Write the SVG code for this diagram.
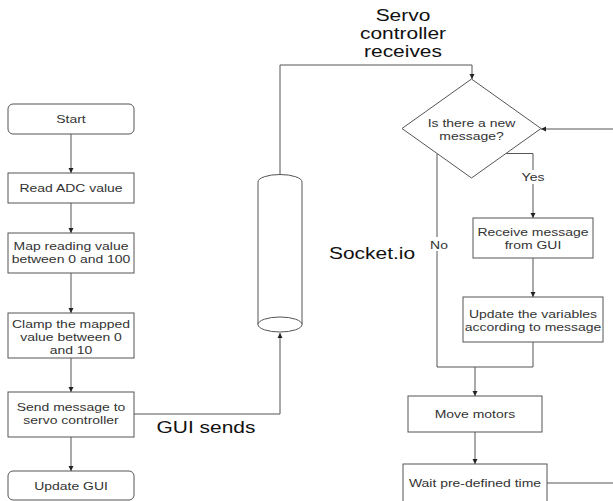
<svg xmlns="http://www.w3.org/2000/svg" width="613" height="501" viewBox="0 0 613 501">
<style>
.b{fill:#fff;stroke:#555;stroke-width:1}
.t{font-family:"Liberation Sans",Arial,sans-serif;font-size:11px;fill:#333;text-anchor:middle}
.L{font-family:"Liberation Sans",Arial,sans-serif;font-size:16.5px;fill:#111;text-anchor:middle}
.c{fill:none;stroke:#555;stroke-width:1}
</style>
<defs>
<marker id="a" markerWidth="6" markerHeight="6" refX="5" refY="3" orient="auto" markerUnits="userSpaceOnUse">
<path d="M0,0.5 L5,3 L0,5.5 Z" fill="#222"/>
</marker>
</defs>
<rect width="613" height="501" fill="#fff"/>
<g id="connectors">
<path class="c" d="M71,134 V173" marker-end="url(#a)"/>
<path class="c" d="M71,203 V233" marker-end="url(#a)"/>
<path class="c" d="M71,273 V313" marker-end="url(#a)"/>
<path class="c" d="M71,358 V392" marker-end="url(#a)"/>
<path class="c" d="M71,437 V471" marker-end="url(#a)"/>
<path class="c" d="M134,414 H280 V333" marker-end="url(#a)"/>
<path class="c" d="M280,175 V65 H472 V79" marker-end="url(#a)"/>
<path class="c" d="M613,129 H541" marker-end="url(#a)"/>
<path class="c" d="M506,153.5 H533 V218" marker-end="url(#a)"/>
<path class="c" d="M533,258 V297" marker-end="url(#a)"/>
<path class="c" d="M437,153.5 V367 H533 V342"/>
<path class="c" d="M475,367 V396" marker-end="url(#a)"/>
<path class="c" d="M475,432 V464" marker-end="url(#a)"/>
<path class="c" d="M547,483 H613"/>
<rect x="520" y="170" width="26" height="14" fill="#fff"/>
<text class="t" transform="translate(533,181) scale(1.27,1)">Yes</text>
<rect x="428" y="237" width="22" height="14" fill="#fff"/>
<text class="t" transform="translate(439,249) scale(1.27,1)">No</text>
</g>
<g id="start"><rect class="b" x="8" y="104" width="126" height="30" rx="5"/><text class="t" transform="translate(71,123) scale(1.27,1)">Start</text></g>
<g id="read"><rect class="b" x="8" y="173" width="126" height="30"/><text class="t" transform="translate(71,192) scale(1.27,1)">Read ADC value</text></g>
<g id="map"><rect class="b" x="8" y="233" width="126" height="40"/><text class="t" transform="translate(71,250) scale(1.27,1)">Map reading value</text><text class="t" transform="translate(71,263) scale(1.27,1)">between 0 and 100</text></g>
<g id="clamp"><rect class="b" x="8" y="313" width="126" height="45"/><text class="t" transform="translate(71,328) scale(1.27,1)">Clamp the mapped</text><text class="t" transform="translate(71,341) scale(1.27,1)">value between 0</text><text class="t" transform="translate(71,354) scale(1.27,1)">and 10</text></g>
<g id="send"><rect class="b" x="8" y="392" width="126" height="45"/><text class="t" transform="translate(71,411) scale(1.27,1)">Send message to</text><text class="t" transform="translate(71,424) scale(1.27,1)">servo controller</text></g>
<g id="updategui"><rect class="b" x="8" y="471" width="126" height="29" rx="5"/><text class="t" transform="translate(71,490) scale(1.27,1)">Update GUI</text></g>
<g id="socket">
<path class="b" d="M258,182 A22,7.5 0 0 1 302,182 V324.5 H258 Z"/>
<ellipse class="b" cx="280" cy="324.5" rx="22" ry="7.5"/>
</g>
<g id="decision"><path class="b" d="M471.5,79 L541,128.5 L471.5,178 L402,128.5 Z"/><text class="t" transform="translate(471.5,127) scale(1.27,1)">Is there a new</text><text class="t" transform="translate(471.5,140) scale(1.27,1)">message?</text></g>
<g id="receive"><rect class="b" x="473" y="218" width="120" height="40"/><text class="t" transform="translate(533,236) scale(1.27,1)">Receive message</text><text class="t" transform="translate(533,249) scale(1.27,1)">from GUI</text></g>
<g id="updatevars"><rect class="b" x="463" y="297" width="140" height="45"/><text class="t" transform="translate(533,318) scale(1.27,1)">Update the variables</text><text class="t" transform="translate(533,331) scale(1.27,1)">according to message</text></g>
<g id="move"><rect class="b" x="408" y="396" width="134" height="36"/><text class="t" transform="translate(475,418) scale(1.27,1)">Move motors</text></g>
<g id="wait"><rect class="b" x="403" y="464" width="144" height="42"/><text class="t" transform="translate(475,487) scale(1.27,1)">Wait pre-defined time</text></g>
<g id="labels">
<text class="L" transform="translate(403,21) scale(1.27,1)">Servo</text>
<text class="L" transform="translate(403,39) scale(1.27,1)">controller</text>
<text class="L" transform="translate(403,57) scale(1.27,1)">receives</text>
<text class="L" transform="translate(372,259) scale(1.27,1)">Socket.io</text>
<text class="L" transform="translate(206,433) scale(1.27,1)">GUI sends</text>
</g>
</svg>
